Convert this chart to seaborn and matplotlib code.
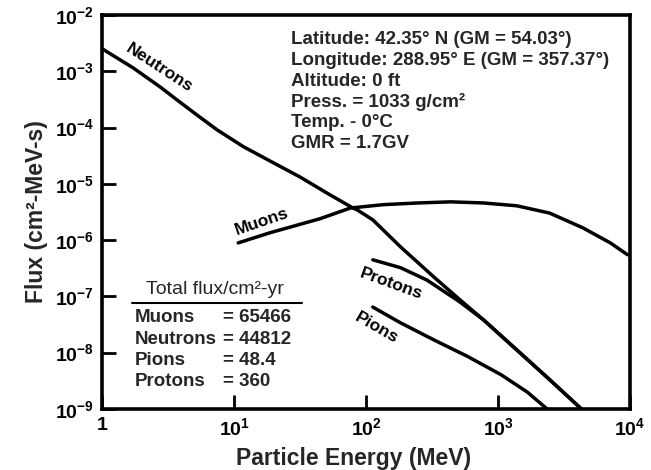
import numpy as np
import pandas as pd
import matplotlib
matplotlib.use("Agg")
import matplotlib.pyplot as plt
import seaborn as sns

# ---- data (log10 values) ----
neutron_logE = [0.0, 0.235, 0.44, 0.59, 0.72, 0.87, 1.07, 1.30, 1.50, 1.70, 1.90, 1.93,
                2.05, 2.26, 2.51, 2.71, 2.89, 3.14, 3.39, 3.63]
neutron_logF = [-2.60, -2.94, -3.28, -3.55, -3.78, -4.04, -4.34, -4.63, -4.88, -5.16, -5.43, -5.46,
                -5.64, -6.12, -6.65, -7.06, -7.42, -7.95, -8.48, -9.0]

muon_logE = [1.03, 1.27, 1.65, 1.88, 2.13, 2.39, 2.64, 2.89, 3.14, 3.39, 3.64, 3.85, 3.98]
muon_logF = [-6.05, -5.87, -5.62, -5.43, -5.37, -5.34, -5.32, -5.34, -5.39, -5.52, -5.78, -6.05, -6.26]

proton_logE = [2.05, 2.26, 2.46, 2.71, 2.89, 3.14, 3.39, 3.63]
proton_logF = [-6.35, -6.49, -6.71, -7.10, -7.42, -7.95, -8.48, -9.0]

pion_logE = [2.05, 2.26, 2.51, 2.77, 3.02, 3.22, 3.37]
pion_logF = [-7.19, -7.47, -7.77, -8.07, -8.39, -8.70, -9.0]

xtick_labels = ["1", r"$10^{1}$", r"$10^{2}$", r"$10^{3}$", r"$10^{4}$"]
ytick_labels = [r"$10^{-9}$", r"$10^{-8}$", r"$10^{-7}$", r"$10^{-6}$",
                r"$10^{-5}$", r"$10^{-4}$", r"$10^{-3}$", r"$10^{-2}$"]

info_lines = [
    "Latitude: 42.35° N (GM = 54.03°)",
    "Longitude: 288.95° E (GM = 357.37°)",
    "Altitude: 0 ft",
    "Press. = 1033 g/cm²",
    "Temp. - 0°C",
    "GMR = 1.7GV",
]
total_names = ["Muons", "Neutrons", "Pions", "Protons"]
total_values = ["= 65466", "= 44812", "= 48.4", "= 360"]

# ---- style ----
sns.set_theme(style="white")
plt.rcParams["font.family"] = ["Liberation Sans", "DejaVu Sans"]
plt.rcParams["font.weight"] = "bold"
plt.rcParams["mathtext.fontset"] = "custom"
plt.rcParams["mathtext.rm"] = "Liberation Sans:bold"
plt.rcParams["mathtext.it"] = "Liberation Sans:bold"
plt.rcParams["mathtext.bf"] = "Liberation Sans:bold"
plt.rcParams["mathtext.default"] = "rm"

fig = plt.figure(figsize=(6.51, 4.70), dpi=100)
ax = fig.add_axes([0.157, 0.130, 0.811, 0.838])

def curve(le, lf, name):
    df = pd.DataFrame({"E": 10 ** np.array(le), "F": 10 ** np.array(lf), "s": name})
    sns.lineplot(data=df, x="E", y="F", ax=ax, color="black", lw=2.5,
                 sort=False, estimator=None, legend=False)

ax.set_xscale("log")
ax.set_yscale("log")
curve(neutron_logE, neutron_logF, "Neutrons")
curve(muon_logE, muon_logF, "Muons")
curve(proton_logE, proton_logF, "Protons")
curve(pion_logE, pion_logF, "Pions")

ax.set_xlim(1, 1e4)
ax.set_ylim(1e-9, 1e-2)
ax.set_xticks([1, 10, 100, 1000, 10000])
ax.set_xticklabels(xtick_labels)
ax.set_yticks([10.0 ** k for k in range(-9, -1)])
ax.set_yticklabels(ytick_labels)
ax.minorticks_off()
ax.tick_params(axis="both", direction="in", length=10, width=2, labelsize=14,
               colors="black", pad=6, bottom=True, left=True)
for s in ax.spines.values():
    s.set_linewidth(2.6)
    s.set_color("black")

ax.set_xlabel("Particle Energy (MeV)", fontsize=16.5, fontweight="bold", labelpad=1)
ax.xaxis.set_label_coords(0.477, -0.098)
ax.set_ylabel("Flux (cm²-MeV-s)", fontsize=16.5, fontweight="bold", labelpad=5)

# curve labels
tk = dict(fontsize=12.5, fontweight="bold", color="black", transform=ax.transData)
ax.text(10 ** 0.43, 10 ** -2.95, "Neutrons", rotation=-33, ha="center", va="center", **tk)
ax.text(10 ** 1.21, 10 ** -5.68, "Muons", rotation=19, ha="center", va="center", **tk)
ax.text(10 ** 2.19, 10 ** -6.78, "Protons", rotation=-20, ha="center", va="center", **tk)
ax.text(10 ** 2.08, 10 ** -7.56, "Pions", rotation=-30, ha="center", va="center", **tk)

# info block
for i, line in enumerate(info_lines):
    fig.text(291 / 651, 1 - (40 + 20.6 * i) / 470, line, fontsize=13.5,
             fontweight="bold", ha="left", va="center")

# totals table
fig.text(215 / 651, 1 - 290 / 470, "Total flux/cm²-yr", fontsize=14,
         fontweight="normal", ha="center", va="center")
fig.add_artist(plt.Line2D([132 / 651, 302 / 651], [1 - 303 / 470, 1 - 303 / 470],
                          color="black", lw=1.5))
for i, (n, v) in enumerate(zip(total_names, total_values)):
    y = 1 - (318 + 21.2 * i) / 470
    fig.text(135 / 651, y, n, fontsize=13.5, fontweight="bold", ha="left", va="center")
    fig.text(223 / 651, y, v, fontsize=13.5, fontweight="bold", ha="left", va="center")

fig.savefig("out.png", dpi=100)
